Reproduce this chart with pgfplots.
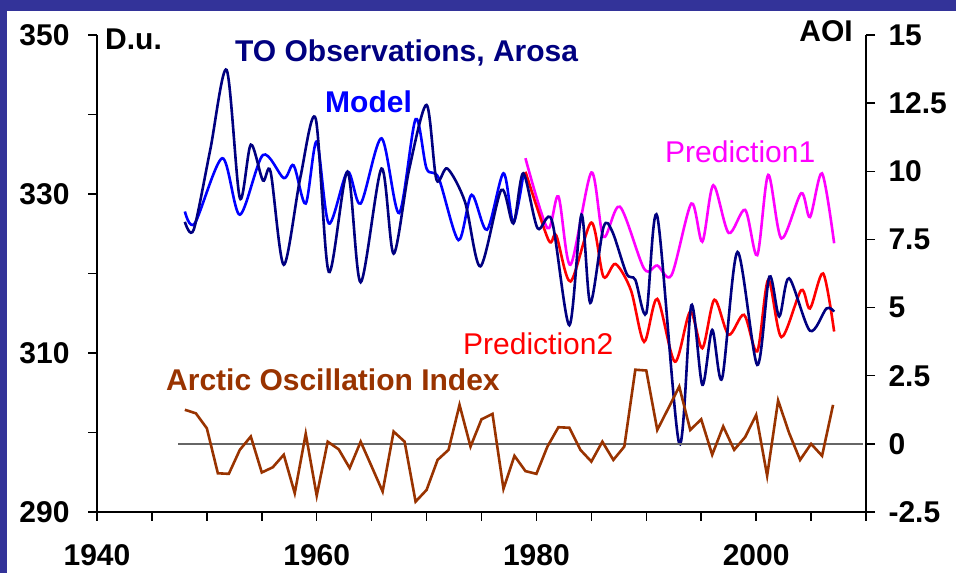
\documentclass[border=0pt]{standalone}
\usepackage{pgfplots}
\pgfplotsset{compat=1.18}
\usepackage{fontspec}
\setmainfont{Liberation Sans}
\definecolor{bgblue}{RGB}{51,51,153}
\definecolor{obsnavy}{RGB}{0,0,128}
\definecolor{modblue}{RGB}{0,0,255}
\definecolor{aoibrown}{RGB}{153,51,0}
\definecolor{pred1}{RGB}{255,0,255}
\definecolor{pred2}{RGB}{255,0,0}
\newcommand{\bigfont}{\fontsize{30bp}{34bp}\selectfont}
\begin{document}
\begin{tikzpicture}[x=1bp,y=1bp]
\path[use as bounding box] (0,0) rectangle (956,573);
\fill[bgblue] (0,0) rectangle (956,573);
\fill[white] (7,0) rectangle (956,562);

\begin{axis}[
  at={(97bp,61bp)}, anchor=south west,
  width=769bp, height=477bp, scale only axis,
  xmin=1940, xmax=2010, ymin=290, ymax=350,
  axis x line*=bottom, axis y line*=left,
  x axis line style={-, line width=1.5bp},
  y axis line style={-, line width=1.5bp},
  xtick={1940,1960,1980,2000},
  xticklabels={1940,1960,1980,2000},
  minor xtick={1945,1950,1955,1965,1970,1975,1985,1990,1995,2005,2010},
  ytick={290,310,330,350},
  yticklabels={290,310,330,350},
  minor ytick={300,320,340},
  tick align=outside,
  major tick length=9bp, minor tick length=9bp,
  every tick/.style={black, line width=1.5bp},
  tick label style={font=\bfseries\bigfont, text=black},
  yticklabel style={xshift=-15bp},
  xticklabel style={yshift=-23bp, inner sep=0pt},
  clip=false,
]
\addplot[modblue, line width=2.6bp, smooth] coordinates {
(1948.0,327.8) (1948.9,326.3) (1951.4,334.5) (1953.0,327.4) (1955.1,334.9)
(1957.0,332.0) (1957.9,333.6) (1959.0,328.8) (1960.0,336.6) (1961.1,326.3)
(1962.8,332.8) (1964.0,328.8) (1965.9,337.0) (1967.5,327.6) (1969.0,339.4)
(1970.0,333.2) (1971.1,332.0) (1972.9,324.2) (1974.1,329.9) (1975.5,325.5)
(1977.0,332.6) (1977.9,326.4) (1978.8,332.4)
};
\addplot[pred1, line width=2.6bp, smooth] coordinates {
(1979.0,334.5) (1981.0,325.7) (1982.0,329.7) (1983.1,321.1) (1985.0,332.7)
(1986.1,324.6) (1987.6,328.4) (1989.8,320.6) (1991.0,321.0) (1992.3,319.8)
(1994.1,328.8) (1995.1,324.0) (1996.1,331.1) (1997.5,325.1) (1999.0,328.0)
(2000.1,322.3) (2001.1,332.4) (2002.3,324.4) (2004.1,330.1) (2004.9,327.1)
(2006.0,332.6) (2007.1,323.8)
};
\addplot[pred2, line width=2.6bp, smooth] coordinates {
(1979.0,332.8) (1981.1,324.2) (1981.8,324.8) (1983.1,319.0) (1985.0,326.4)
(1986.1,319.6) (1987.2,321.2) (1988.6,317.9) (1989.8,311.4) (1991.0,316.8)
(1992.6,308.9) (1994.0,315.2) (1995.1,310.6) (1996.2,316.7) (1997.5,312.3)
(1998.9,314.8) (2000.1,310.2) (2001.1,319.2) (2002.3,312.0) (2004.1,317.9)
(2004.9,315.6) (2006.1,320.0) (2007.1,312.7)
};
\addplot[obsnavy, line width=2.6bp, smooth] coordinates {
(1948.0,326.5) (1948.8,325.5) (1950.3,335.5) (1951.8,345.6) (1953.0,329.5)
(1954.0,336.2) (1955.1,331.7) (1955.8,332.8) (1957.0,321.1) (1958.5,332.0)
(1959.9,339.5) (1961.1,320.2) (1962.8,332.8) (1964.0,318.9)
(1965.9,333.2) (1967.0,322.5) (1968.4,333.0) (1970.0,341.2) (1970.9,331.8)
(1971.9,333.2) (1973.5,329.0) (1974.9,320.9) (1976.8,330.5) (1977.9,326.3)
(1978.8,332.6) (1980.1,325.7) (1981.4,326.7) (1983.0,313.5) (1984.1,327.4)
(1984.9,316.3) (1986.1,325.8) (1986.9,325.3) (1988.2,320.0) (1989.0,319.2)
(1990.0,315.0) (1991.0,327.2) (1993.0,298.6) (1994.1,316.0) (1995.1,306.0)
(1996.0,312.9) (1996.9,306.8) (1998.3,322.7) (2000.1,308.5) (2001.2,319.6)
(2002.1,314.6) (2003.0,319.4) (2004.9,312.8) (2006.4,315.6) (2007.1,315.2)
};
\end{axis}

\begin{axis}[
  at={(97bp,61bp)}, anchor=south west,
  width=769bp, height=477bp, scale only axis,
  xmin=1940, xmax=2010, ymin=-2.5, ymax=15,
  axis x line=none, axis y line*=right,
  y axis line style={-, line width=1.5bp},
  ytick={-2.5,0,2.5,5,7.5,10,12.5,15},
  yticklabels={-2.5,0,2.5,5,7.5,10,12.5,15},
  tick align=outside,
  major tick length=9bp,
  every tick/.style={black, line width=1.5bp},
  tick label style={font=\bfseries\bigfont, text=black},
  yticklabel style={xshift=10bp},
  clip=false,
]
\addplot[gray!80!black, line width=1.8bp] coordinates {(1947.4,0) (2009.7,0)};
\addplot[aoibrown, line width=2.6bp] coordinates {
(1948,1.25) (1949,1.12) (1950,0.57) (1951,-1.08) (1952,-1.1) (1953,-0.22)
(1954,0.27) (1955,-1.05) (1956,-0.86) (1957,-0.4) (1958,-1.81) (1959,0.37)
(1960,-1.9) (1961,0.08) (1962,-0.2) (1963,-0.89) (1964,0.08) (1965,-0.83)
(1966,-1.75) (1967,0.45) (1968,0.08) (1969,-2.12) (1970,-1.69) (1971,-0.59)
(1972,-0.22) (1973,1.43) (1974,-0.1) (1975,0.9) (1976,1.1) (1977,-1.65)
(1978,-0.44) (1979,-1.0) (1980,-1.1) (1981,-0.1) (1982,0.61) (1983,0.59)
(1984,-0.22) (1985,-0.65) (1986,0.08) (1987,-0.59) (1988,-0.1) (1989,2.72)
(1990,2.69) (1991,0.51) (1992,1.3) (1993,2.1) (1994,0.51) (1995,0.9)
(1996,-0.4) (1997,0.64) (1998,-0.22) (1999,0.25) (2000,1.06) (2001,-1.17)
(2002,1.59) (2003,0.4) (2004,-0.59) (2005,0.0) (2006,-0.44) (2007,1.43)
};
\end{axis}

\node[anchor=base west, inner sep=0, font=\bfseries\bigfont] at (105,523) {D.u.};
\node[anchor=base east, inner sep=0, font=\bfseries\bigfont] at (853,531) {AOI};
\node[anchor=base west, inner sep=0, font=\bfseries\bigfont, text=obsnavy] at (235,511) {TO Observations, Arosa};
\node[anchor=base west, inner sep=0, font=\bfseries\bigfont, text=modblue] at (325,460) {Model};
\node[anchor=base west, inner sep=0, font=\bigfont, text=pred1] at (665,410) {Prediction1};
\node[anchor=base west, inner sep=0, font=\bigfont, text=pred2] at (463,218) {Prediction2};
\node[anchor=base west, inner sep=0, font=\bfseries\bigfont, text=aoibrown] at (166,182) {Arctic Oscillation Index};
\end{tikzpicture}
\end{document}
